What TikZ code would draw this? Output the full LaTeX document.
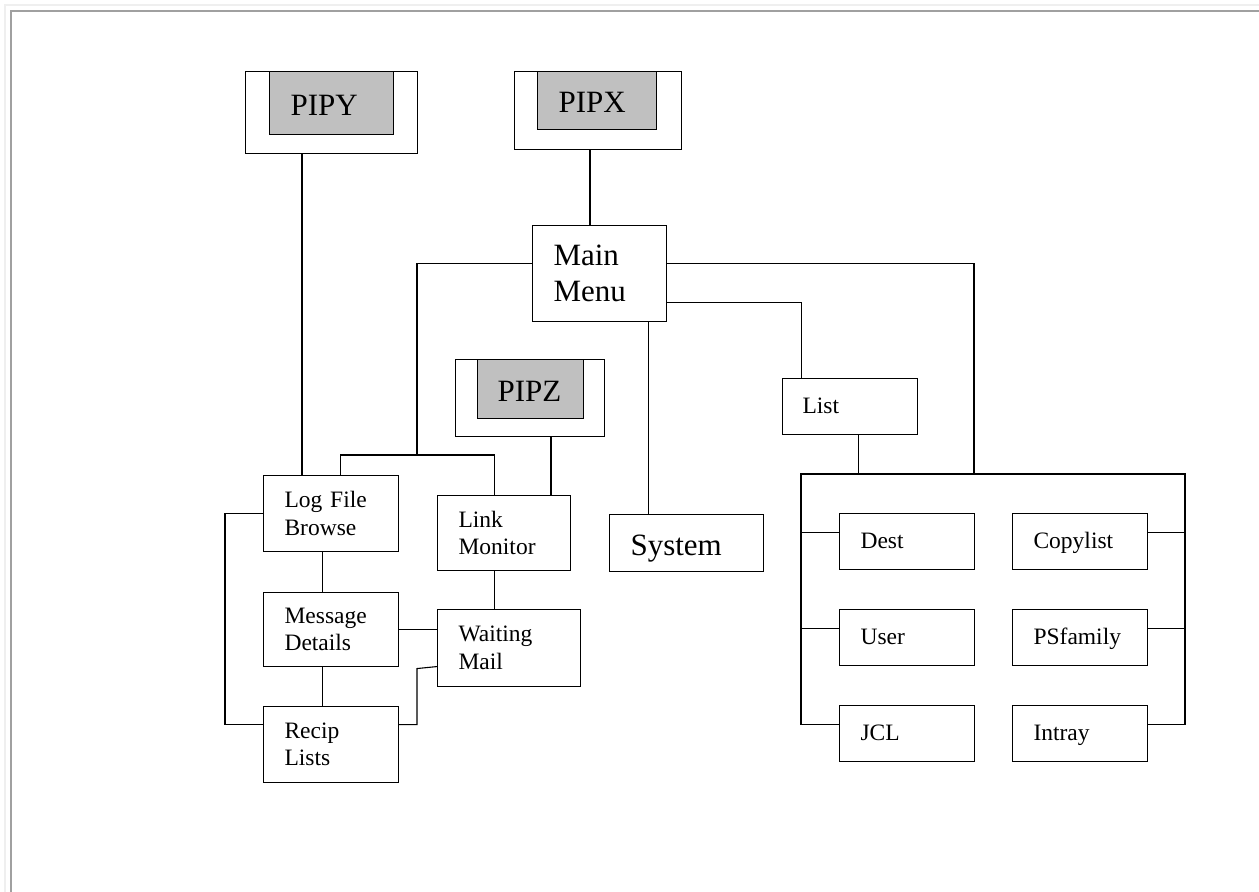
\documentclass[tikz,border=0pt]{standalone}
\usepackage{fontspec}
\setmainfont{Liberation Serif}
\usetikzlibrary{calc}
\definecolor{pipgrey}{HTML}{C0C0C0}
\definecolor{frameA}{HTML}{EFEFEF}
\definecolor{frameB}{HTML}{A0A0A0}
\newcommand{\smallfnt}{\fontsize{23.5}{27.5}\selectfont}
\newcommand{\bigfnt}{\fontsize{31}{36}\selectfont}
\begin{document}
\begin{tikzpicture}[x=1pt,y=-1pt,
  shell/.style={draw, line width=1.1pt, rectangle, anchor=north west, inner sep=0pt},
  box/.style={draw, line width=1.1pt, rectangle, anchor=north west, inner xsep=21pt, inner ysep=0pt, align=left, font=\smallfnt},
  sbox/.style={box, text height=17pt, text depth=4pt},
  bigbox/.style={box, font=\bigfnt},
  sbigbox/.style={bigbox, text height=26pt, text depth=2pt},
  pip/.style={sbigbox, fill=pipgrey},
  wire/.style={line width=1.1pt}]
\useasboundingbox (0,0) rectangle (1259,892);
% frame
\draw[frameA, line width=1.6pt] (5,892) -- (5,5) -- (1259,5);
\draw[frameB, line width=2pt] (11,892) -- (11,11) -- (1259,11);

% PIP boxes
\node[shell, minimum width=172pt, minimum height=82pt] (pipyo) at (245,71) {};
\node[pip, text width=82pt, minimum height=63pt] (pipy) at (269,71) {PIPY};
\node[shell, minimum width=167pt, minimum height=78pt] (pipxo) at (514,71) {};
\node[pip, text width=77pt, minimum height=58pt] (pipx) at (537,71) {PIPX};
\node[shell, minimum width=149pt, minimum height=77pt] (pipzo) at (455,359) {};
\node[pip, inner xsep=20pt, text width=66pt, minimum height=59pt] (pipz) at (477,359) {PIPZ};

% main boxes
\node[bigbox, text width=92pt, minimum height=96pt] (mm) at (532,225) {Main\\Menu};
\node[sbox, inner xsep=20pt, text width=95pt, minimum height=56pt] (list) at (782,378) {List};
\node[sbigbox, text width=112pt, minimum height=57pt] (sys) at (609,514) {System};
\node[box, text width=93pt, minimum height=76pt] (lfb) at (263,475) {Log File\\Browse};
\node[box, text width=91pt, minimum height=75pt] (lm) at (437,495) {Link\\Monitor};
\node[box, text width=93pt, minimum height=74pt] (md) at (263,592) {Message\\Details};
\node[box, text width=101pt, minimum height=77pt] (wm) at (437,609) {Waiting\\Mail};
\node[box, text width=93pt, minimum height=76pt] (rl) at (263,706) {Recip\\Lists};
\node[sbox, text width=93pt, minimum height=56pt] (dest) at (839,513) {Dest};
\node[sbox, text width=93pt, minimum height=56pt] (copy) at (1012,513) {Copylist};
\node[sbox, text width=93pt, minimum height=56pt] (user) at (839,609) {User};
\node[sbox, text width=93pt, minimum height=56pt] (psf) at (1012,609) {PSfamily};
\node[sbox, text width=93pt, minimum height=56pt] (jcl) at (839,705) {JCL};
\node[sbox, text width=93pt, minimum height=56pt] (intray) at (1012,705) {Intray};

% junction coordinates
\coordinate (pyx) at (302,0);
\coordinate (pxx) at (590,0);
\coordinate (pzx) at (551,0);
\coordinate (busM) at (417,455);
\coordinate (bl) at (801,474);
\coordinate (br) at (1185,474);
\coordinate (lx) at (225,0);
\coordinate (rmx) at (417,0);

% connectors
\draw[wire] (pipyo.south -| pyx) -- (lfb.north -| pyx);
\draw[wire] (pipxo.south -| pxx) -- (mm.north -| pxx);
\draw[wire] (pipzo.south -| pzx) -- (lm.north -| pzx);
\draw[wire] ([yshift=10pt]mm.west) -| (busM);
\draw[wire] ([xshift=9.5pt]lfb.north) |- (busM) -| ([xshift=-9.5pt]lm.north);
\draw[wire] ([yshift=10pt]mm.east) -| (bl -| 974,0);
\draw[wire] ([yshift=-29pt]mm.east) -| ([xshift=-48.5pt]list.north);
\draw[wire] ([xshift=8.5pt]list.south) -- ([xshift=8.5pt]list.south |- bl);
\draw[wire] ([xshift=48.5pt]mm.south) -- ([xshift=48.5pt]mm.south |- sys.north);
\draw[wire] ([yshift=9pt]jcl.west) -| (bl) -- (br) |- ([yshift=9pt]intray.east);
\draw[wire] ([yshift=9pt]dest.west) -- ([yshift=9pt]dest.west -| bl);
\draw[wire] ([yshift=9pt]user.west) -- ([yshift=9pt]user.west -| bl);
\draw[wire] ([yshift=9pt]copy.east) -- ([yshift=9pt]copy.east -| br);
\draw[wire] ([yshift=9pt]psf.east) -- ([yshift=9pt]psf.east -| br);
\draw[wire] (lfb.west) -| ([yshift=20pt]rl.west -| lx) -- ([yshift=20pt]rl.west);
\draw[wire] ([xshift=-8.5pt]lfb.south) -- ([xshift=-8.5pt]md.north);
\draw[wire] ([xshift=-8.5pt]md.south) -- ([xshift=-8.5pt]rl.north);
\draw[wire] ([xshift=-9.5pt]lm.south) -- ([xshift=-9.5pt]lm.south |- wm.north);
\draw[wire] (md.east) -- (md.east -| wm.west);
\draw[wire] ([yshift=20pt]rl.east) -| ([yshift=-20.5pt]wm.west -| rmx) -- ([yshift=-18.5pt]wm.west);
\end{tikzpicture}
\end{document}
